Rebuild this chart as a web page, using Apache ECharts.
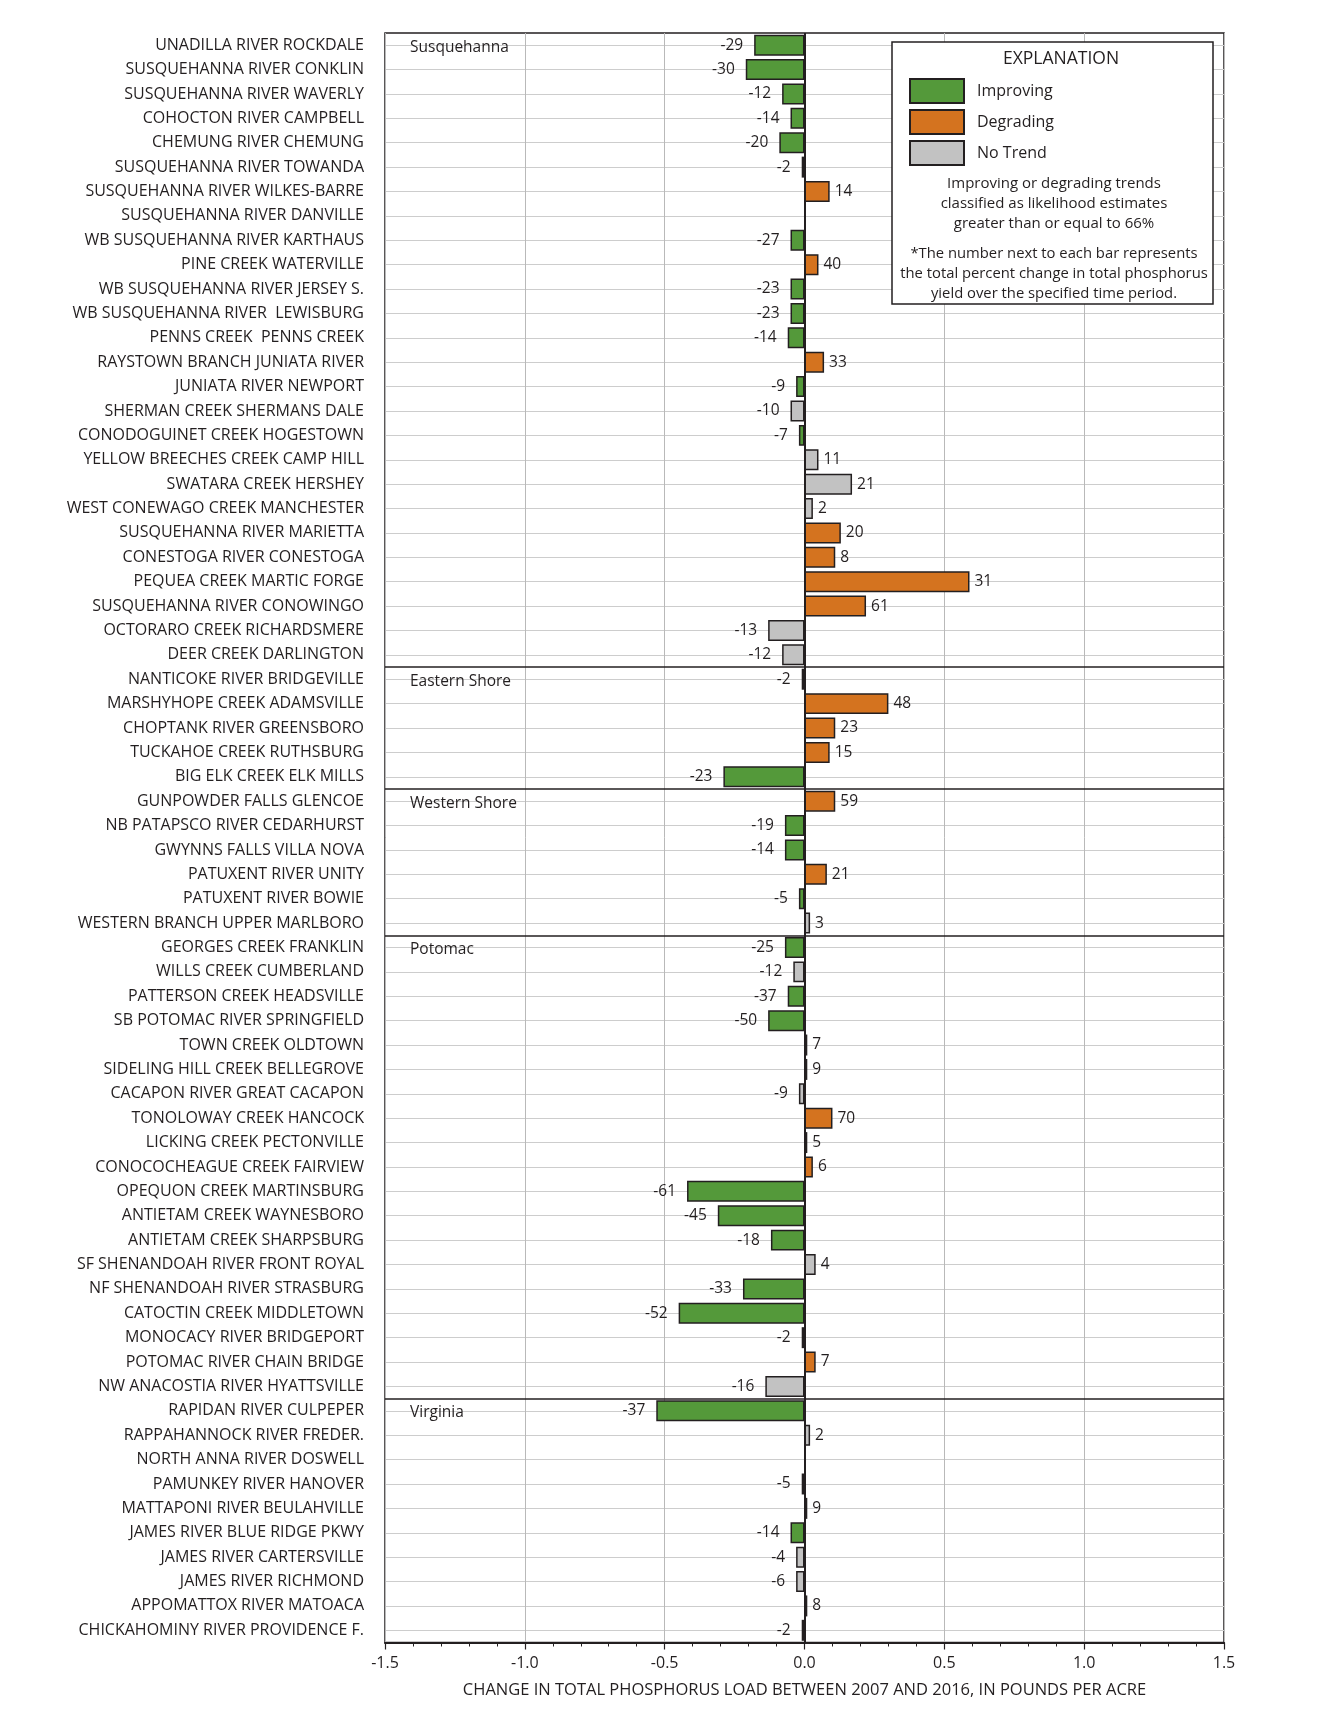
<!DOCTYPE html>
<html><head><meta charset="utf-8">
<script src="https://cdn.jsdelivr.net/npm/echarts@6/dist/echarts.min.js"></script>
<style>html,body{margin:0;padding:0;background:#fff}#c{width:1336px;height:1729px}</style>
</head><body><div id="c"></div>
<script>
const categories = [
'UNADILLA RIVER ROCKDALE','SUSQUEHANNA RIVER CONKLIN','SUSQUEHANNA RIVER WAVERLY','COHOCTON RIVER CAMPBELL',
'CHEMUNG RIVER CHEMUNG','SUSQUEHANNA RIVER TOWANDA','SUSQUEHANNA RIVER WILKES-BARRE','SUSQUEHANNA RIVER DANVILLE',
'WB SUSQUEHANNA RIVER KARTHAUS','PINE CREEK WATERVILLE','WB SUSQUEHANNA RIVER JERSEY S.','WB SUSQUEHANNA RIVER  LEWISBURG',
'PENNS CREEK  PENNS CREEK','RAYSTOWN BRANCH JUNIATA RIVER','JUNIATA RIVER NEWPORT','SHERMAN CREEK SHERMANS DALE',
'CONODOGUINET CREEK HOGESTOWN','YELLOW BREECHES CREEK CAMP HILL','SWATARA CREEK HERSHEY','WEST CONEWAGO CREEK MANCHESTER',
'SUSQUEHANNA RIVER MARIETTA','CONESTOGA RIVER CONESTOGA','PEQUEA CREEK MARTIC FORGE','SUSQUEHANNA RIVER CONOWINGO',
'OCTORARO CREEK RICHARDSMERE','DEER CREEK DARLINGTON',
'NANTICOKE RIVER BRIDGEVILLE','MARSHYHOPE CREEK ADAMSVILLE','CHOPTANK RIVER GREENSBORO','TUCKAHOE CREEK RUTHSBURG','BIG ELK CREEK ELK MILLS',
'GUNPOWDER FALLS GLENCOE','NB PATAPSCO RIVER CEDARHURST','GWYNNS FALLS VILLA NOVA','PATUXENT RIVER UNITY','PATUXENT RIVER BOWIE','WESTERN BRANCH UPPER MARLBORO',
'GEORGES CREEK FRANKLIN','WILLS CREEK CUMBERLAND','PATTERSON CREEK HEADSVILLE','SB POTOMAC RIVER SPRINGFIELD','TOWN CREEK OLDTOWN',
'SIDELING HILL CREEK BELLEGROVE','CACAPON RIVER GREAT CACAPON','TONOLOWAY CREEK HANCOCK','LICKING CREEK PECTONVILLE','CONOCOCHEAGUE CREEK FAIRVIEW',
'OPEQUON CREEK MARTINSBURG','ANTIETAM CREEK WAYNESBORO','ANTIETAM CREEK SHARPSBURG','SF SHENANDOAH RIVER FRONT ROYAL','NF SHENANDOAH RIVER STRASBURG',
'CATOCTIN CREEK MIDDLETOWN','MONOCACY RIVER BRIDGEPORT','POTOMAC RIVER CHAIN BRIDGE','NW ANACOSTIA RIVER HYATTSVILLE',
'RAPIDAN RIVER CULPEPER','RAPPAHANNOCK RIVER FREDER.','NORTH ANNA RIVER DOSWELL','PAMUNKEY RIVER HANOVER','MATTAPONI RIVER BEULAHVILLE',
'JAMES RIVER BLUE RIDGE PKWY','JAMES RIVER CARTERSVILLE','JAMES RIVER RICHMOND','APPOMATTOX RIVER MATOACA','CHICKAHOMINY RIVER PROVIDENCE F.'
];
const values = [
-0.18,-0.21,-0.08,-0.05,-0.09,-0.01,0.09,null,-0.05,0.05,-0.05,-0.05,-0.06,0.07,-0.03,-0.05,-0.02,0.05,0.17,0.03,0.13,0.11,0.59,0.22,-0.13,-0.08,
-0.01,0.30,0.11,0.09,-0.29,
0.11,-0.07,-0.07,0.08,-0.02,0.02,
-0.07,-0.04,-0.06,-0.13,0.01,0.01,-0.02,0.10,0.01,0.03,-0.42,-0.31,-0.12,0.04,-0.22,-0.45,-0.01,0.04,-0.14,
-0.53,0.02,null,-0.01,0.01,-0.05,-0.03,-0.03,0.01,-0.01
];
const percentLabels = [
'-29','-30','-12','-14','-20','-2','14','','-27','40','-23','-23','-14','33','-9','-10','-7','11','21','2','20','8','31','61','-13','-12',
'-2','48','23','15','-23',
'59','-19','-14','21','-5','3',
'-25','-12','-37','-50','7','9','-9','70','5','6','-61','-45','-18','4','-33','-52','-2','7','-16',
'-37','2','','-5','9','-14','-4','-6','8','-2'
];
// I = Improving, D = Degrading, N = No Trend
const trends = [
'I','I','I','I','I','N','D','','I','D','I','I','I','D','I','N','I','N','N','N','D','D','D','D','N','N',
'N','D','D','D','I',
'D','I','I','D','I','N',
'I','N','I','I','N','N','N','D','N','D','I','I','I','N','I','I','N','D','N',
'I','N','','N','D','I','N','N','D','N'
];
const groupNames = ['Susquehanna','Eastern Shore','Western Shore','Potomac','Virginia'];
const groupStarts = [0,26,31,37,56];
const legendNames = ['Improving','Degrading','No Trend'];

const FONT = 'Open Sans';
const INK = '#231f20';
const seriesDefs = [
  {name:'Improving', code:'I', color:'#54993a'},
  {name:'Degrading', code:'D', color:'#d4731f'},
  {name:'No Trend', code:'N', color:'#c2c2c2'}
];

const barSeries = seriesDefs.map(d => ({
  type:'bar', name:d.name, barWidth:'86%', barGap:'-100%', z:2,
  itemStyle:{color:d.color, borderColor:INK, borderWidth:1.5},
  label:{show:true, fontFamily:FONT, fontSize:15.5, color:INK,
         formatter:p => percentLabels[p.dataIndex]},
  data: values.map((v,i) => trends[i] === d.code
      ? {value:v, label:{position: v < 0 ? 'left' : 'right', distance: v < 0 ? 11 : 5}}
      : null)
}));

const helperSeries = {
  type:'scatter', data:[], xAxisIndex:0, yAxisIndex:1, z:5, silent:true,
  markLine:{
    silent:true, symbol:'none', animation:false, label:{show:false},
    lineStyle:{color:INK, width:1.5, type:'solid'},
    data:[{xAxis:0, lineStyle:{width:2}}].concat(groupStarts.slice(1).map(s => ({yAxis:s - 0.5})))
  },
  markPoint:{
    silent:true, symbol:'circle', symbolSize:0, animation:false,
    label:{show:true, position:'right', distance:25, offset:[0,2], formatter:'{b}', fontFamily:FONT, fontSize:15.5, color:INK},
    data: groupNames.map((n,k) => ({name:n, coord:[-1.5, groupStarts[k]]}))
  }
};

const chart = echarts.init(document.getElementById('c'), null, {renderer:'canvas'});
chart.setOption({
  animation:false,
  backgroundColor:'#fff',
  textStyle:{fontFamily:FONT},
  grid:{left:385, top:33, width:839, bottom:86.5, show:true, borderColor:INK, borderWidth:1.5, backgroundColor:'transparent', containLabel:false},
  legend:{
    data:legendNames, orient:'vertical', left:909, top:78, padding:0, itemWidth:54, itemHeight:24, itemGap:5, z:20,
    icon:'rect', textStyle:{fontFamily:FONT, fontSize:16, lineHeight:20, color:INK, padding:[0,0,0,8]}, selectedMode:false
  },
  xAxis:{
    type:'value', min:-1.5, max:1.5, interval:0.5,
    name:'CHANGE IN TOTAL PHOSPHORUS LOAD BETWEEN 2007 AND 2016, IN POUNDS PER ACRE',
    nameLocation:'middle', nameGap:39,
    nameTextStyle:{fontFamily:FONT, fontSize:16.5, color:INK},
    axisLine:{show:true, onZero:false, lineStyle:{color:INK, width:2}},
    axisTick:{show:true, length:7, lineStyle:{color:INK, width:1.2}},
    minorTick:{show:true, splitNumber:5, length:4, lineStyle:{color:INK, width:1}},
    axisLabel:{fontFamily:FONT, fontSize:16, color:INK, margin:13, formatter:v => v.toFixed(1)},
    splitLine:{show:true, lineStyle:{color:'#b9b9b9', width:1}}
  },
  yAxis:[{
    type:'category', data:categories, inverse:true,
    axisLine:{show:false, onZero:false},
    axisTick:{show:false},
    axisLabel:{fontFamily:FONT, fontSize:16, color:INK, margin:21, interval:0},
    splitLine:{show:true, alignWithLabel:true, interval:0, lineStyle:{color:'#cdcdcd', width:1}}
  },{
    type:'value', min:-0.5, max:65.5, inverse:true, show:false,
    splitLine:{show:false}, axisLine:{show:false}, axisLabel:{show:false}, axisTick:{show:false}
  }],
  graphic:[
    {type:'rect', z:10, shape:{x:892, y:42, width:321, height:262}, style:{fill:'#fff', stroke:INK, lineWidth:1.5}},
    {type:'text', z:11, x:1061, y:59, style:{text:'EXPLANATION', fontFamily:FONT, fontSize:17.5, fill:INK, align:'center', verticalAlign:'middle', textAlign:'center', textVerticalAlign:'middle'}},
    {type:'text', z:11, x:1054, y:204, style:{text:'Improving or degrading trends\nclassified as likelihood estimates\ngreater than or equal to 66%', fontFamily:FONT, fontSize:15, lineHeight:20, fill:INK, align:'center', verticalAlign:'middle', textAlign:'center', textVerticalAlign:'middle'}},
    {type:'text', z:11, x:1054, y:274, style:{text:'*The number next to each bar represents\nthe total percent change in total phosphorus\nyield over the specified time period.', fontFamily:FONT, fontSize:14.8, lineHeight:20, fill:INK, align:'center', verticalAlign:'middle', textAlign:'center', textVerticalAlign:'middle'}}
  ],
  series: barSeries.concat([helperSeries])
});
</script></body></html>
